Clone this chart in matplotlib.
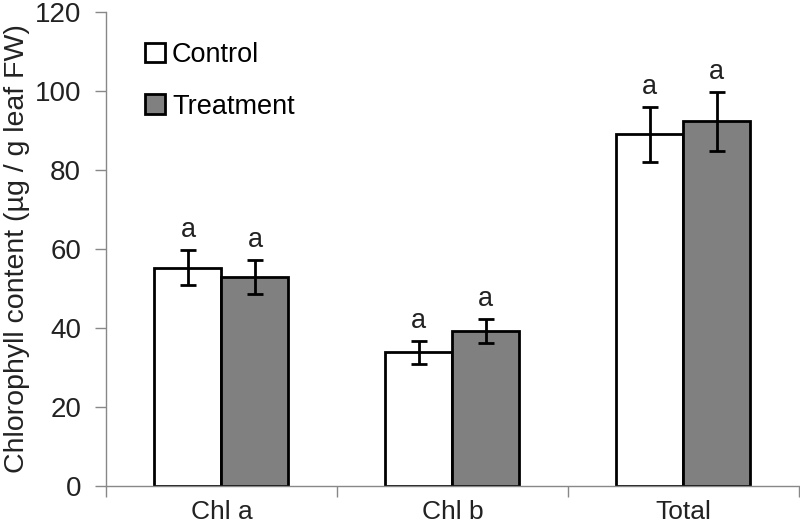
import numpy as np
import matplotlib.pyplot as plt

categories = ['Chl a', 'Chl b', 'Total']
control = [55.3, 33.8, 89.0]
control_err = [4.5, 2.9, 7.0]
treatment = [53.0, 39.3, 92.3]
treatment_err = [4.3, 3.0, 7.4]
letters_control = ['a', 'a', 'a']
letters_treatment = ['a', 'a', 'a']

plt.rcParams['font.family'] = ['Liberation Sans', 'DejaVu Sans']

fig = plt.figure(figsize=(8, 5.29), dpi=100)
ax = fig.add_axes([0.1325, 0.0813, 0.866, 0.896])

x = np.arange(len(categories))
w = 0.29
err_kw = dict(ecolor='black', elinewidth=2, capsize=6, capthick=2)
ax.bar(x - w / 2, control, w, yerr=control_err, color='white',
       edgecolor='black', linewidth=2, error_kw=err_kw, label='Control')
ax.bar(x + w / 2, treatment, w, yerr=treatment_err, color='#808080',
       edgecolor='black', linewidth=2, error_kw=err_kw, label='Treatment')

for i in range(len(categories)):
    ax.text(x[i] - w / 2, control[i] + control_err[i] + 1.8, letters_control[i],
            ha='center', va='bottom', fontsize=19.5, color='#222222')
    ax.text(x[i] + w / 2, treatment[i] + treatment_err[i] + 1.8, letters_treatment[i],
            ha='center', va='bottom', fontsize=19.5, color='#222222')

ax.set_xlim(-0.5, 2.5)
ax.set_ylim(0, 120)
ax.set_yticks(range(0, 121, 20))
ax.set_xticks(x)
ax.set_xticklabels(categories)
ax.set_xticks([-0.5, 0.5, 1.5, 2.5], minor=True)
ax.tick_params(axis='x', which='major', length=0, labelsize=19, pad=10, colors='#222222')
ax.tick_params(axis='x', which='minor', length=8, width=1, color='#888888')
ax.tick_params(axis='y', length=8, width=1, color='#888888', labelsize=20,
               labelcolor='#222222', pad=10)
ax.set_ylabel('Chlorophyll content (µg / g leaf FW)', fontsize=20.5, color='#222222', labelpad=3)

for s in ['top', 'right']:
    ax.spines[s].set_visible(False)
for s in ['left', 'bottom']:
    ax.spines[s].set_color('#888888')
    ax.spines[s].set_linewidth(1)

ax.legend(loc='upper left', bbox_to_anchor=(0.056, 0.937), frameon=False,
          fontsize=19.5, handlelength=0.75, handleheight=0.75, handletextpad=0.25,
          labelspacing=0.95, borderpad=0, borderaxespad=0)

fig.savefig('out.png', dpi=100)
